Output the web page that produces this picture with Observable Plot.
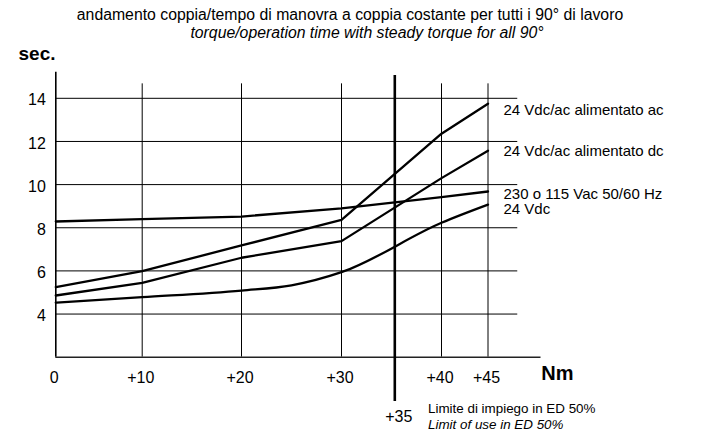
<!DOCTYPE html>
<html><head><meta charset="utf-8">
<script src="https://cdn.jsdelivr.net/npm/d3@7"></script>
<script src="https://cdn.jsdelivr.net/npm/@observablehq/plot@0.6"></script>
<style>
body{margin:0;background:#fff;font-family:"Liberation Sans",Arial,Helvetica,sans-serif;}
#wrap{position:relative;width:702px;height:434px;overflow:hidden;}
#head{position:relative;height:44px;}
.t{position:absolute;white-space:nowrap;transform:translate(-50%,-50%);font-size:15.8px;color:#000;line-height:1;}
</style></head><body>
<div id="wrap">
<div id="head">
<div class="t" style="left:350px;top:15px">andamento coppia/tempo di manovra a coppia costante per tutti i 90° di lavoro</div>
<div class="t" style="left:367px;top:32.5px;font-style:italic">torque/operation time with steady torque for all 90°</div>
</div>
<div id="chart"></div>
</div>
<script>
// ---- data ----
const torque = [0, 10, 20, 30, 40, 45];          // Nm
const torqueDC24 = [0, 10, 20, 25, 30, 40, 45];   // Nm (extra point for the bend)
const seriesNames = [
  "24 Vdc/ac alimentato ac",
  "24 Vdc/ac alimentato dc",
  "230 o 115 Vac 50/60 Hz",
  "24 Vdc"
];
const timeAcFed  = [5.25, 5.99, 7.18, 8.37, 12.36, 13.75];  // sec.
const timeDcFed  = [4.86, 5.44, 6.61, 7.38, 10.30, 11.57];
const time230    = [8.29, 8.40, 8.52, 8.90, 9.42, 9.68];
const time24Vdc  = [4.53, 4.78, 5.09, 5.33, 5.94, 8.23, 9.07];
const yTicks = [4, 6, 8, 10, 12, 14];
const xTicks = [0, 10, 20, 30, 40, 45];
const limitTorque = 35;

// ---- presentation ----
const labelDy = [6, 0.5, 2.3, 4.7];
const xs = [torque, torque, torque, torqueDC24];
const ys = [timeAcFed, timeDcFed, time230, time24Vdc];
const rows = seriesNames.flatMap((name, k) => xs[k].map((x, i) => ({name, x, y: ys[k][i]})));
const ends = seriesNames.map((name, k) => ({name, x: xs[k][xs[k].length - 1], y: ys[k][ys[k].length - 1]}));
const curved = seriesNames[3];

const W = 702, H = 390;
const chart = Plot.plot({
  width: W, height: H,
  marginLeft: 55.3, marginRight: 161.3, marginTop: 27.7, marginBottom: 77.3,
  style: {fontFamily: "Liberation Sans, Arial, Helvetica, sans-serif", fontSize: "16px", background: "#fff", color: "#000", overflow: "visible"},
  x: {type: "linear", domain: [0, 10, 20, 30, 35, 40, 45], range: [55.3, 141.7, 241, 341, 394.3, 441, 487.5], label: null},
  y: {domain: [2, 15.21], label: null},
  marks: [
    Plot.ruleY(yTicks, {x1: 0, x2: 48.2, stroke: "#000", strokeWidth: 1}),
    Plot.ruleX(xTicks.filter(d => d > 0), {y1: 2, y2: 14.67, stroke: "#000", strokeWidth: 1}),
    Plot.ruleX([0], {y1: 2, y2: 15.21, stroke: "#000", strokeWidth: 1.6}),
    Plot.ruleY([2], {x1: 0, x2: 50.7, stroke: "#222", strokeWidth: 1.6}),
    Plot.ruleX([limitTorque], {y1: -0.05, y2: 15.06, stroke: "#000", strokeWidth: 2.6}),
    Plot.line(rows.filter(d => d.name !== curved), {x: "x", y: "y", z: "name", stroke: "#000", strokeWidth: 2.3, strokeLinejoin: "round"}),
    Plot.line(rows.filter(d => d.name === curved), {x: "x", y: "y", stroke: "#000", strokeWidth: 2.3, strokeLinejoin: "round", curve: "monotone-x"}),
    ...ends.map((e, k) => Plot.text([e], {x: "x", y: "y", text: "name", dx: 15.5, dy: labelDy[k], textAnchor: "start", lineAnchor: "middle", fontSize: 15})),
    Plot.axisY(yTicks, {tickSize: 0, tickPadding: 10, dy: 2, fontSize: 16, label: null}),
    Plot.axisX(xTicks, {tickSize: 0, tickPadding: 14.4, dx: -1.5, fontSize: 16, label: null, tickFormat: d => d === 0 ? "0" : "+" + d}),
    Plot.text([limitTorque], {x: d => d, frameAnchor: "bottom", lineAnchor: "middle", text: d => "+" + d, dx: 4, dy: 59.3, fontSize: 16}),
    Plot.text([limitTorque], {x: d => d, frameAnchor: "bottom", lineAnchor: "middle", text: () => "Limite di impiego in ED 50%", textAnchor: "start", dx: 33.2, dy: 51.3, fontSize: 13.4}),
    Plot.text([limitTorque], {x: d => d, frameAnchor: "bottom", lineAnchor: "middle", text: () => "Limit of use in ED 50%", textAnchor: "start", dx: 33.2, dy: 67.3, fontSize: 13.4, fontStyle: "italic"}),
    Plot.text(["sec."], {frameAnchor: "top-left", lineAnchor: "middle", text: d => d, textAnchor: "start", dx: -37.3, dy: -18.7, fontSize: 19, fontWeight: "bold"}),
    Plot.text(["Nm"], {frameAnchor: "bottom-right", lineAnchor: "middle", text: d => d, textAnchor: "start", dy: 16.3, fontSize: 20, fontWeight: "bold"})
  ]
});
document.getElementById("chart").appendChild(chart);
</script>
</body></html>
